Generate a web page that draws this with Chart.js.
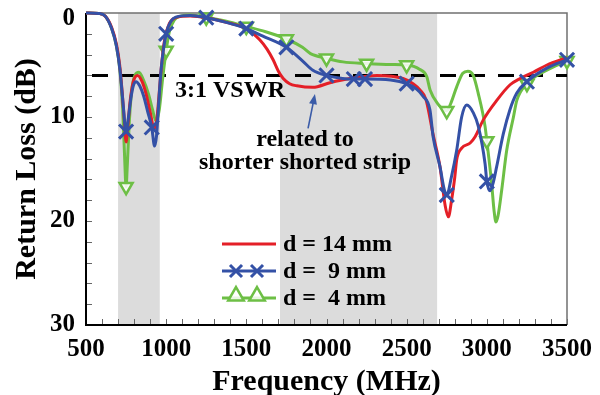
<!DOCTYPE html>
<html>
<head>
<meta charset="utf-8">
<script src="https://cdn.jsdelivr.net/npm/chart.js@4/dist/chart.umd.min.js"></script>
<style>
  html, body { margin: 0; padding: 0; background: #fff; }
  #wrap { width: 600px; height: 395px; }
</style>
</head>
<body>
<div id="wrap"><canvas id="c" width="600" height="395"></canvas></div>
<script>
// Axis ranges and labelled ticks
const freqRange = [500, 3500];
const lossRange = [0, 30];
const xTickLabels = [500, 1000, 1500, 2000, 2500, 3000, 3500];
const yTickLabels = [0, 10, 20, 30];

// Shaded operating bands (MHz) and the 3:1 VSWR level (dB)
const bands = [[700, 960], [1710, 2690]];
const vswrLevel = 6;

// d = 14 mm
const freq14 = [500, 580, 620, 660, 690, 710, 725, 740, 750, 760, 775, 795, 822, 850, 875, 900, 925, 940, 955, 970,
  990, 1020, 1060, 1150, 1250, 1375, 1500, 1585, 1630, 1667, 1700, 1730, 1770, 1815, 1915, 2022, 2147, 2315, 2477, 2540,
  2583, 2620, 2665, 2708, 2740, 2760, 2780, 2800, 2812, 2843, 2896, 2927, 2977, 3062, 3145, 3207, 3290, 3375, 3500];
const loss14 = [0, 0.05, 0.3, 1.4, 3.0, 5.0, 7.5, 10.5, 12.4, 11.0, 8.5, 6.6, 6.0, 6.6, 7.8, 9.5, 11.1, 10.5, 8.0, 5.2,
  2.6, 1.0, 0.45, 0.3, 0.45, 0.9, 1.5, 2.6, 3.5, 4.5, 5.6, 6.3, 6.8, 7.0, 7.15, 6.7, 6.3, 6.0, 6.3, 6.8,
  7.4, 8.3, 11.7, 14.8, 18.5, 19.6, 18.0, 15.8, 14.1, 13.0, 12.5, 11.9, 10.3, 8.4, 6.9, 6.3, 5.7, 5.0, 4.3];

// d = 9 mm
const freq9 = [500, 580, 620, 660, 690, 712, 730, 750, 765, 780, 795, 812, 835, 860, 885, 910, 928, 940, 952, 968,
  1000, 1030, 1060, 1150, 1250, 1375, 1500, 1600, 1750, 1850, 1915, 2000, 2100, 2170, 2240, 2400, 2500, 2560, 2602, 2645,
  2665, 2708, 2735, 2750, 2780, 2812, 2843, 2875, 2916, 2947, 2989, 3000, 3020, 3040, 3061, 3103, 3144, 3187, 3250, 3374, 3500];
const loss9 = [0, 0.05, 0.3, 1.5, 3.2, 5.5, 8.5, 11.4, 10.0, 8.2, 7.0, 6.6, 7.0, 8.0, 9.5, 11.0, 12.8, 11.8, 9.0, 5.5,
  2.0, 0.8, 0.4, 0.25, 0.45, 0.9, 1.5, 2.2, 3.3, 4.6, 5.5, 6.0, 6.3, 6.35, 6.35, 6.45, 6.8, 7.3, 8.0, 9.3,
  11.9, 14.8, 17.0, 17.5, 15.7, 13.2, 10.0, 8.85, 9.6, 10.9, 14.5, 16.2, 17.1, 16.3, 14.8, 11.6, 9.3, 7.7, 6.6, 5.3, 4.5];
const marks9 = [750, 910, 1000, 1250, 1500, 1750, 2000, 2170, 2240, 2500, 2750, 3000, 3250, 3500];

// d = 4 mm
const freq4 = [500, 580, 620, 660, 690, 712, 728, 740, 750, 758, 770, 785, 805, 830, 860, 890, 915, 937, 957, 978,
  1000, 1020, 1050, 1090, 1150, 1250, 1375, 1500, 1620, 1750, 1850, 1900, 2000, 2103, 2250, 2400, 2500, 2580, 2625, 2646,
  2698, 2725, 2750, 2775, 2812, 2850, 2882, 2915, 2946, 2989, 3000, 3030, 3045, 3057, 3070, 3093, 3124, 3166, 3187, 3250, 3374, 3500];
const loss4 = [0, 0.05, 0.3, 1.5, 3.2, 5.6, 9.0, 13.5, 16.7, 14.5, 10.5, 7.5, 6.0, 5.7, 6.5, 7.8, 9.3, 10.4, 9.3, 6.3,
  3.6, 1.8, 0.7, 0.3, 0.2, 0.4, 0.8, 1.3, 1.8, 2.5, 3.3, 3.9, 4.35, 4.7, 4.85, 4.95, 5.0, 5.4, 6.1, 7.4,
  8.8, 9.2, 9.4, 8.7, 7.1, 5.8, 5.6, 6.0, 7.7, 10.9, 12.3, 16.4, 19.0, 20.1, 19.5, 17.0, 13.2, 10.0, 8.4, 6.8, 5.5, 4.6];
const marks4 = [750, 1000, 1250, 1500, 1750, 2000, 2250, 2500, 2750, 3000, 3250, 3500];

const RED = '#e41f27';
const BLUE = '#3451a6';
const GREEN = '#6dbf45';
const SERIF = '"Liberation Serif", "Times New Roman", serif';

const pairs = (fs, ls) => fs.map((f, i) => ({ x: f, y: ls[i] }));

const crossStyle = { pointStyle: 'crossRot', rotation: 0, radius: 10, borderWidth: 3 };
const triStyle = { pointStyle: 'triangle', rotation: 180, radius: 7.5, borderWidth: 2.5 };

const datasets = [
  {
    label: 'd = 14 mm', data: pairs(freq14, loss14),
    borderColor: RED, borderWidth: 3, pointRadius: 0, order: 2
  },
  {
    label: 'd =  9 mm', data: pairs(freq9, loss9),
    borderColor: BLUE, borderWidth: 3, order: 1,
    pointStyle: crossStyle.pointStyle, pointBorderColor: BLUE, pointBorderWidth: crossStyle.borderWidth,
    pointRadius: c => marks9.includes(c.raw.x) ? crossStyle.radius : 0
  },
  {
    label: 'd =  4 mm', data: pairs(freq4, loss4),
    borderColor: GREEN, borderWidth: 3, order: 3,
    pointStyle: triStyle.pointStyle, pointRotation: triStyle.rotation,
    pointBorderColor: GREEN, pointBackgroundColor: 'rgba(255,255,255,0.85)', pointBorderWidth: triStyle.borderWidth,
    pointRadius: c => marks4.includes(c.raw.x) ? triStyle.radius : 0
  }
];
datasets.forEach(d => { d.fill = false; d.cubicInterpolationMode = 'monotone'; d.clip = 14; });

// Legend entries: marker style drawn twice on each sample line
const legendMarks = [null, { ...crossStyle, radius: 8.5 }, { ...triStyle, rotation: 0, radius: 9 }];

function drawMarker(ctx, style, x, y) {
  if (Chart.helpers && Chart.helpers.drawPoint) {
    Chart.helpers.drawPoint(ctx, style, x, y);
  }
}

const decorations = {
  id: 'decorations',
  beforeDatasetsDraw(chart) {
    const { ctx, chartArea: a, scales: { x, y } } = chart;
    ctx.save();
    // shaded bands
    ctx.fillStyle = '#dcdcdc';
    bands.forEach(([f0, f1]) => {
      const x0 = x.getPixelForValue(f0), x1 = x.getPixelForValue(f1);
      ctx.fillRect(x0, a.top, x1 - x0, a.bottom - a.top);
    });
    // inward tick marks
    ctx.strokeStyle = '#666';
    ctx.lineWidth = 1;
    ctx.beginPath();
    x.ticks.forEach(t => {
      const px = Math.round(x.getPixelForValue(t.value)) + 0.5;
      ctx.moveTo(px, a.bottom); ctx.lineTo(px, a.bottom - 6);
    });
    y.ticks.forEach(t => {
      const py = Math.round(y.getPixelForValue(t.value)) + 0.5;
      ctx.moveTo(a.left, py); ctx.lineTo(a.left + 6, py);
    });
    ctx.stroke();
    // frame: gray top/right, black axes
    ctx.strokeStyle = '#707070';
    ctx.lineWidth = 1.5;
    ctx.beginPath();
    ctx.moveTo(a.left, a.top); ctx.lineTo(a.right, a.top); ctx.lineTo(a.right, a.bottom);
    ctx.stroke();
    ctx.strokeStyle = '#000';
    ctx.lineWidth = 2;
    ctx.beginPath();
    ctx.moveTo(a.left, a.top); ctx.lineTo(a.left, a.bottom); ctx.lineTo(a.right, a.bottom);
    ctx.stroke();
    // 3:1 VSWR level
    const yv = y.getPixelForValue(vswrLevel);
    ctx.strokeStyle = '#000';
    ctx.lineWidth = 3;
    ctx.setLineDash([16, 13]);
    ctx.beginPath();
    ctx.moveTo(a.left + 6, yv); ctx.lineTo(a.right, yv);
    ctx.stroke();
    ctx.restore();
  },
  afterDatasetsDraw(chart) {
    const { ctx, chartArea: a, scales: { x, y } } = chart;
    ctx.save();
    ctx.fillStyle = '#000';
    ctx.textAlign = 'center';
    ctx.textBaseline = 'middle';
    ctx.font = 'bold 24px ' + SERIF;
    ctx.fillText('3:1 VSWR', x.getPixelForValue(1398), y.getPixelForValue(7.5));
    ctx.fillText('related to', x.getPixelForValue(1866), y.getPixelForValue(12.2));
    ctx.fillText('shorter shorted strip', x.getPixelForValue(1866), y.getPixelForValue(14.4));

    // top value label sits just below the frame corner
    ctx.textAlign = 'right';
    ctx.font = 'bold 25px ' + SERIF;
    ctx.fillText(String(yTickLabels[0]), a.left - 11, y.getPixelForValue(yTickLabels[0]) + 6);

    // arrow to the lower-frequency shift
    const ax0 = x.getPixelForValue(1885), ay0 = y.getPixelForValue(11.1);
    const ax1 = x.getPixelForValue(1928), ay1 = y.getPixelForValue(7.8);
    const ang = Math.atan2(ay1 - ay0, ax1 - ax0);
    ctx.strokeStyle = '#3b5ca8';
    ctx.fillStyle = '#3b5ca8';
    ctx.lineWidth = 1.6;
    ctx.beginPath();
    ctx.moveTo(ax0, ay0);
    ctx.lineTo(ax1 - 8 * Math.cos(ang), ay1 - 8 * Math.sin(ang));
    ctx.stroke();
    ctx.beginPath();
    ctx.moveTo(ax1, ay1);
    ctx.lineTo(ax1 - 10 * Math.cos(ang) + 4 * Math.sin(ang), ay1 - 10 * Math.sin(ang) - 4 * Math.cos(ang));
    ctx.lineTo(ax1 - 10 * Math.cos(ang) - 4 * Math.sin(ang), ay1 - 10 * Math.sin(ang) + 4 * Math.cos(ang));
    ctx.closePath();
    ctx.fill();

    // legend
    const lx0 = 222, lx1 = 276, tx = 283, ly = 244, step = 27;
    chart.data.datasets.forEach((ds, i) => {
      const rowY = ly + i * step;
      ctx.strokeStyle = ds.borderColor;
      ctx.lineWidth = 3;
      ctx.setLineDash([]);
      ctx.beginPath();
      ctx.moveTo(lx0, rowY); ctx.lineTo(lx1, rowY);
      ctx.stroke();
      const m = legendMarks[i];
      if (m) {
        ctx.fillStyle = 'rgba(255,255,255,0.85)';
        ctx.strokeStyle = ds.borderColor;
        ctx.lineWidth = m.borderWidth;
        [236, 257].forEach(px => drawMarker(ctx, m, px, rowY - (m.pointStyle === 'triangle' ? 2 : 0)));
      }
      ctx.fillStyle = '#000';
      ctx.textAlign = 'left';
      ctx.textBaseline = 'middle';
      ctx.font = 'bold 24px ' + SERIF;
      ctx.fillText(ds.label, tx, rowY + 1);
    });
    ctx.restore();
  }
};

Chart.defaults.font.family = SERIF;
Chart.defaults.font.weight = 'bold';
Chart.defaults.color = '#000';

new Chart(document.getElementById('c'), {
  type: 'line',
  data: { datasets },
  options: {
    responsive: false,
    animation: false,
    events: [],
    layout: { padding: { left: 0, right: 33, top: 13, bottom: 0 } },
    plugins: { legend: { display: false }, tooltip: { enabled: false } },
    scales: {
      x: {
        type: 'linear', min: freqRange[0], max: freqRange[1],
        afterFit(s) { s.height = 70; s.paddingLeft = 0; s.paddingRight = 0; },
        grid: { display: false, drawTicks: false },
        border: { display: false },
        ticks: {
          stepSize: 100, autoSkip: false, maxRotation: 0, minRotation: 0, padding: 10,
          color: '#000', font: { size: 25, weight: 'bold' },
          callback: v => xTickLabels.includes(Math.round(v)) ? String(Math.round(v)) : ''
        },
        title: {
          display: true, text: 'Frequency (MHz)', color: '#000',
          font: { size: 30, weight: 'bold' }, padding: { top: 0, bottom: -5 }
        }
      },
      y: {
        type: 'linear', min: lossRange[0], max: lossRange[1], reverse: true,
        afterFit(s) { s.width = 86; s.paddingTop = 0; s.paddingBottom = 0; },
        grid: { display: false, drawTicks: false },
        border: { display: false },
        ticks: {
          stepSize: 2, autoSkip: false, padding: 11,
          color: '#000', font: { size: 25, weight: 'bold' },
          // the top label is placed by the decorations plugin
          callback: v => (Math.round(v) !== yTickLabels[0] && yTickLabels.includes(Math.round(v))) ? String(Math.round(v)) : ''
        },
        title: {
          display: true, text: 'Return Loss (dB)', color: '#000',
          font: { size: 30, weight: 'bold' }, padding: { top: 9, bottom: 0 }
        }
      }
    }
  },
  plugins: [decorations]
});
</script>
</body>
</html>
